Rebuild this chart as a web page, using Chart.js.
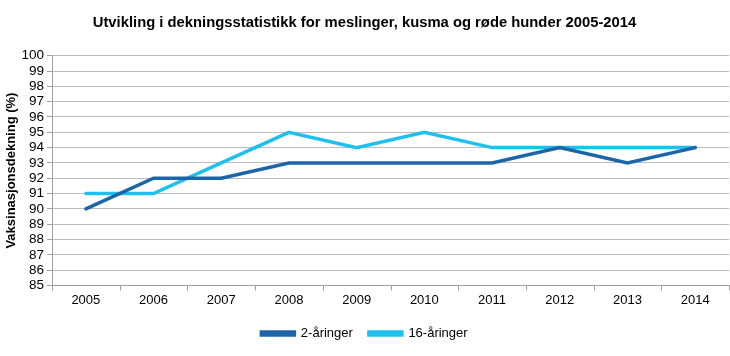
<!DOCTYPE html>
<html><head><meta charset="utf-8">
<script src="https://cdn.jsdelivr.net/npm/chart.js@4"></script>
<style>html,body{margin:0;padding:0;background:#fff}#wrap{width:730px;height:356px;position:relative}</style>
</head><body><div id="wrap"><canvas id="c" width="730" height="356"></canvas></div>
<script>
const categories = ['2005','2006','2007','2008','2009','2010','2011','2012','2013','2014'];
const seriesNames = ['2-åringer','16-åringer'];
const twoYear = [90,92,92,93,93,93,93,94,93,94];
const sixteenYear = [91,91,93,95,94,95,94,94,94,94];
const yMin = 85, yMax = 100, yStep = 1;
const title = 'Utvikling i dekningsstatistikk for meslinger, kusma og røde hunder 2005-2014';
const yTitle = 'Vaksinasjonsdekning (%)';

Chart.defaults.font.family = "'Liberation Sans', Arial, sans-serif";
Chart.defaults.color = '#000';
new Chart(document.getElementById('c'), {
  type: 'line',
  data: {
    labels: categories,
    datasets: [
      {label: seriesNames[0], data: twoYear, borderColor: '#1c66a8', backgroundColor: '#1c66a8', borderWidth: 3.5, pointRadius: 0, tension: 0, borderCapStyle: 'round'},
      {label: seriesNames[1], data: sixteenYear, borderColor: '#1ec0f0', backgroundColor: '#1ec0f0', borderWidth: 3.5, pointRadius: 0, tension: 0, borderCapStyle: 'round'}
    ]
  },
  options: {
    responsive: false, animation: false,
    layout: {padding: {left: 0, right: 1, top: 0, bottom: 6}},
    plugins: {
      title: {display: true, text: title, font: {size: 14.8, weight: 'bold'}, color: '#000', padding: {top: 14, bottom: 24}},
      legend: {position: 'bottom', labels: {boxWidth: 33, boxHeight: 3, font: {size: 13}, padding: 16}},
      tooltip: {enabled: false}
    },
    scales: {
      x: {offset: true, grid: {display: false, offset: true, drawTicks: true},
          afterFit(s) { s.height += 4; },
          border: {color: '#a0a0a0'},
          ticks: {font: {size: 13}, padding: -1, autoSkip: false, maxRotation: 0}},
      y: {min: yMin, max: yMax,
          afterFit(s) { s.width = 52; },
          ticks: {stepSize: yStep, font: {size: 13.5}, padding: 3, autoSkip: false},
          grid: {color: '#bdbdbd', tickLength: 5, tickColor: '#a0a0a0'},
          border: {color: '#a0a0a0'},
          title: {display: true, text: yTitle, font: {size: 13, weight: 'bold'}, padding: {top: 4, bottom: 0}}}
    }
  },
  plugins: [{
    id: 'xticks',
    afterDraw(chart) {
      const ctx = chart.ctx, x = chart.scales.x, y = chart.scales.y;
      ctx.save(); ctx.strokeStyle = '#a0a0a0'; ctx.lineWidth = 1;
      for (let i = 0; i <= categories.length; i++) {
        const px = Math.round(x.left + (x.right - x.left) * i / categories.length) + 0.5;
        ctx.beginPath(); ctx.moveTo(px, y.bottom); ctx.lineTo(px, y.bottom + 5); ctx.stroke();
      }
      ctx.restore();
    }
  }]
});
</script></body></html>
